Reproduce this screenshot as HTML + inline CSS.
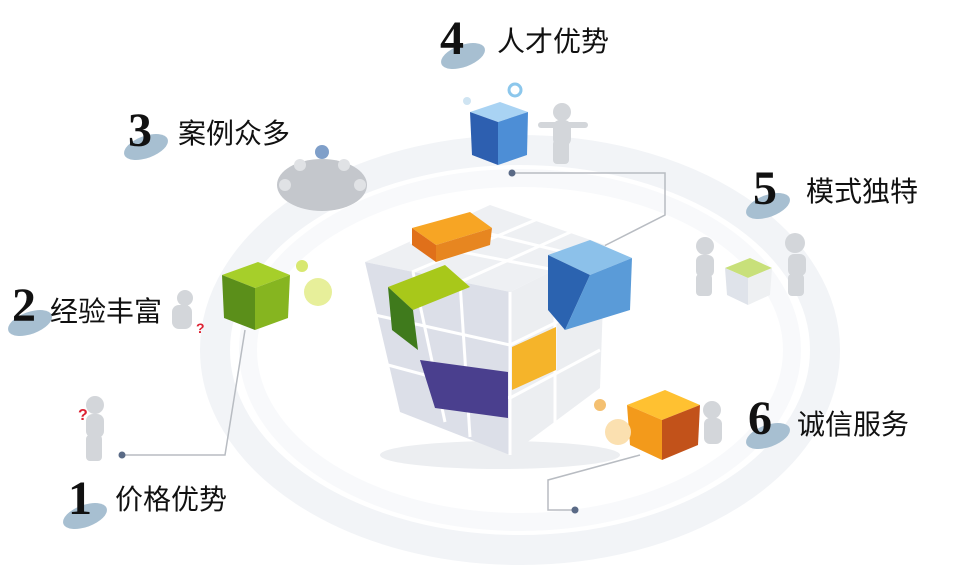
<!DOCTYPE html>
<html><head><meta charset="utf-8"><style>
body{margin:0;width:978px;height:567px;background:#fff;overflow:hidden;position:relative;font-family:"Liberation Sans","Noto Sans CJK SC",sans-serif}
.n{position:absolute;font-family:"Liberation Serif",serif;font-weight:bold;font-size:48px;line-height:46px;color:#111}
.t{position:absolute;font-size:28px;line-height:30px;color:#111;font-family:"Liberation Sans","Noto Sans CJK SC",sans-serif}
.b{position:absolute;width:46px;height:22px;border-radius:50%;background:#a7bfd1;transform:rotate(-20deg)}
</style></head><body>
<svg width="978" height="567" style="position:absolute;left:0;top:0">
<ellipse cx="520" cy="350" rx="305" ry="200" fill="none" stroke="#f2f4f7" stroke-width="30"/>
<ellipse cx="520" cy="350" rx="272" ry="172" fill="none" stroke="#f8f9fb" stroke-width="18"/>
<g stroke="#b8bcc2" stroke-width="1.5" fill="none">
<polyline points="512,173 665,173 665,215 600,248"/>
<polyline points="122,455 225,455 245,330"/>
<polyline points="575,510 548,510 548,480 640,455"/>
</g>
<circle cx="512" cy="173" r="3.5" fill="#5a6a86"/>
<circle cx="122" cy="455" r="3.5" fill="#5a6a86"/>
<circle cx="575" cy="510" r="3.5" fill="#5a6a86"/>
<ellipse cx="500" cy="455" rx="120" ry="14" fill="#eceef1"/>
<polygon points="365,262 490,205 605,245 510,292" fill="#eef0f3"/>
<polygon points="365,262 510,292 510,455 400,412" fill="#dcdfe8"/>
<polygon points="510,292 605,245 600,388 510,455" fill="#eceef1"/>
<g stroke="#fff" stroke-width="3">
<line x1="410" y1="242" x2="555" y2="270"/><line x1="450" y1="224" x2="580" y2="256"/>
<line x1="412" y1="272" x2="540" y2="218"/><line x1="460" y1="282" x2="575" y2="230"/>
<line x1="413" y1="272" x2="445" y2="422"/><line x1="460" y1="282" x2="470" y2="437"/>
<line x1="375" y1="315" x2="510" y2="345"/><line x1="388" y1="365" x2="510" y2="398"/>
<line x1="510" y1="345" x2="602" y2="300"/><line x1="510" y1="398" x2="600" y2="350"/>
<line x1="555" y1="270" x2="555" y2="425"/><line x1="510" y1="292" x2="510" y2="455"/>
</g>
<polygon points="388,287 445,265 470,287 413,310" fill="#a8c81a"/>
<polygon points="388,287 413,310 418,350 392,330" fill="#3f7a1c"/>
<polygon points="420,360 508,372 508,418 435,408" fill="#4a3f8e"/>
<polygon points="512,347 556,327 556,370 512,390" fill="#f5b42a"/>
<polygon points="412,228 470,212 492,228 436,245" fill="#f7a524"/>
<polygon points="412,228 436,245 436,262 412,245" fill="#e0701a"/>
<polygon points="436,245 492,228 490,245 436,262" fill="#e78620"/>
<polygon points="548,255 590,240 632,258 590,275" fill="#8cc1ea"/>
<polygon points="548,255 590,275 565,330 548,310" fill="#2b63b0"/>
<polygon points="590,275 632,258 630,310 565,330" fill="#5a9bd8"/>
<polygon points="470,112 500,102 528,112 498,122" fill="#a9d3f3"/>
<polygon points="470,112 498,122 498,165 472,155" fill="#2d5fb0"/>
<polygon points="498,122 528,112 527,155 498,165" fill="#4d8ed6"/>
<circle cx="515" cy="90" r="6" fill="none" stroke="#8cc7ec" stroke-width="3"/>
<circle cx="467" cy="101" r="4" fill="#cfe4f2"/>
<polygon points="222,275 258,262 290,275 255,288" fill="#a6cf2a"/>
<polygon points="222,275 255,288 255,330 224,318" fill="#5b8f1a"/>
<polygon points="255,288 290,275 288,318 255,330" fill="#86b520"/>
<circle cx="318" cy="292" r="14" fill="#e7ef9a"/><circle cx="302" cy="266" r="6" fill="#d8e870"/>
<polygon points="627,405 665,390 700,405 662,420" fill="#ffc131"/>
<polygon points="627,405 662,420 662,460 630,445" fill="#f39a1b"/>
<polygon points="662,420 700,405 698,445 662,460" fill="#c2521a"/>
<circle cx="600" cy="405" r="6" fill="#f4c071"/><circle cx="618" cy="432" r="13" fill="#fbe0b0"/>
<g fill="#d3d6da">
<circle cx="562" cy="112" r="9"/><rect x="553" y="120" width="18" height="26" rx="7"/><rect x="553" y="140" width="16" height="24" rx="4"/><rect x="538" y="122" width="50" height="6" rx="3"/>
<circle cx="95" cy="405" r="9"/><rect x="86" y="414" width="18" height="24" rx="7"/><rect x="86" y="435" width="16" height="26" rx="4"/>
<circle cx="185" cy="298" r="8"/><rect x="172" y="305" width="20" height="24" rx="7"/>
<circle cx="705" cy="246" r="9"/><rect x="696" y="255" width="18" height="22" rx="6"/><rect x="696" y="274" width="16" height="22" rx="4"/>
<circle cx="795" cy="243" r="10"/><rect x="788" y="254" width="18" height="22" rx="6"/><rect x="788" y="274" width="16" height="22" rx="4"/>
<circle cx="712" cy="410" r="9"/><rect x="704" y="418" width="18" height="26" rx="6"/>
</g>
<g fill="#c4c7cc">
<ellipse cx="322" cy="185" rx="45" ry="26"/>
</g>
<g fill="#e0e2e5"><circle cx="300" cy="165" r="6"/><circle cx="344" cy="165" r="6"/><circle cx="285" cy="185" r="6"/><circle cx="360" cy="185" r="6"/></g>
<circle cx="322" cy="152" r="7" fill="#7f9fc9"/>
<polygon points="725,268 750,258 772,268 748,278" fill="#c8e07a"/>
<polygon points="725,268 748,278 748,305 727,295" fill="#dfe3ea"/>
<polygon points="748,278 772,268 770,295 748,305" fill="#eef0f2"/>
<text x="78" y="420" font-size="16" fill="#d23" font-weight="bold">?</text>
<text x="196" y="333" font-size="14" fill="#d23" font-weight="bold">?</text>
</svg>
<div class="b" style="left:440px;top:45px"></div><div class="n" style="left:440px;top:16px">4</div><div class="t" style="left:497px;top:27px">人才优势</div>
<div class="b" style="left:123px;top:136px"></div><div class="n" style="left:128px;top:108px">3</div><div class="t" style="left:178px;top:119px">案例众多</div>
<div class="b" style="left:745px;top:195px"></div><div class="n" style="left:753px;top:166px">5</div><div class="t" style="left:806px;top:177px">模式独特</div>
<div class="b" style="left:7px;top:312px"></div><div class="n" style="left:12px;top:283px">2</div><div class="t" style="left:50px;top:297px">经验丰富</div>
<div class="b" style="left:745px;top:425px"></div><div class="n" style="left:748px;top:396px">6</div><div class="t" style="left:797px;top:410px">诚信服务</div>
<div class="b" style="left:62px;top:505px"></div><div class="n" style="left:68px;top:476px">1</div><div class="t" style="left:115px;top:485px">价格优势</div>
</body></html>
